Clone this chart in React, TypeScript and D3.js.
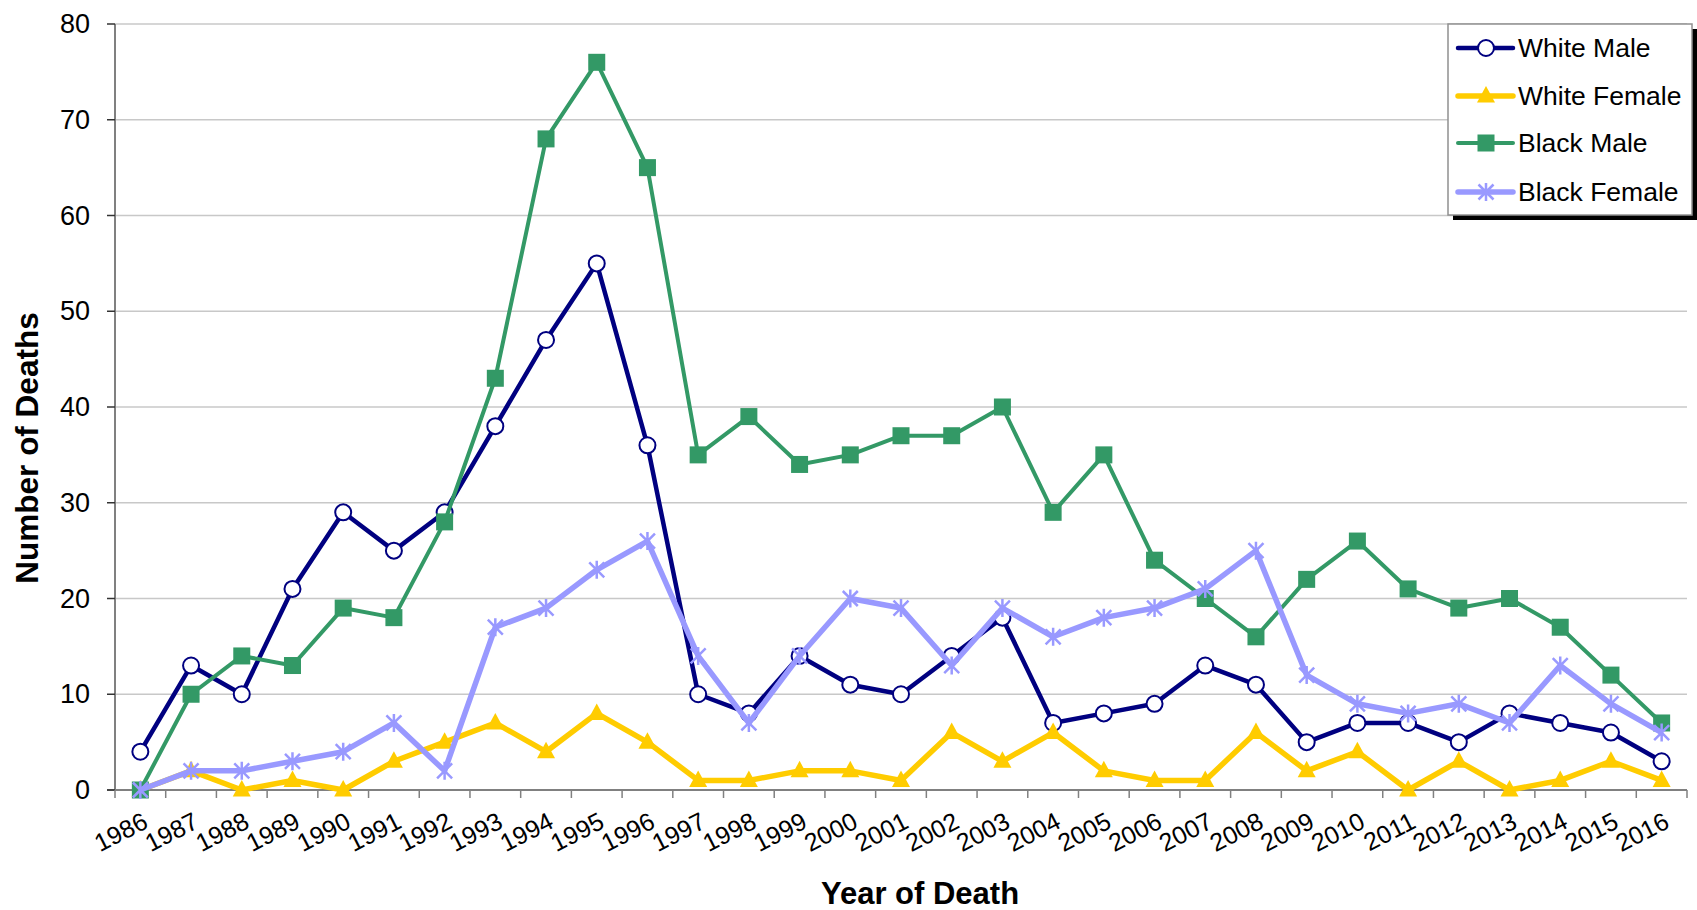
import React from "react";
import * as d3 from "d3";

const years = [1986,1987,1988,1989,1990,1991,1992,1993,1994,1995,1996,1997,1998,1999,2000,2001,2002,2003,2004,2005,2006,2007,2008,2009,2010,2011,2012,2013,2014,2015,2016];
const whiteMale = [4,13,10,21,29,25,29,38,47,55,36,10,8,14,11,10,14,18,7,8,9,13,11,5,7,7,5,8,7,6,3];
const whiteFemale = [0,2,0,1,0,3,5,7,4,8,5,1,1,2,2,1,6,3,6,2,1,1,6,2,4,0,3,0,1,3,1];
const blackMale = [0,10,14,13,19,18,28,43,68,76,65,35,39,34,35,37,37,40,29,35,24,20,16,22,26,21,19,20,17,12,7];
const blackFemale = [0,2,2,3,4,7,2,17,19,23,26,14,7,14,20,19,13,19,16,18,19,21,25,12,9,8,9,7,13,9,6];
const yTicks = [0,10,20,30,40,50,60,70,80];
const seriesNames = ["White Male","White Female","Black Male","Black Female"];

const W = 1697, H = 910;
const FONT = "Arial, 'Liberation Sans', Helvetica, sans-serif";

type Kind = "circle" | "triangle" | "square" | "star";
const seriesDefs: { name: string; values: number[]; color: string; width: number; kind: Kind }[] = [
  { name: seriesNames[0], values: whiteMale, color: "#000080", width: 4.5, kind: "circle" },
  { name: seriesNames[1], values: whiteFemale, color: "#FFCC00", width: 5.5, kind: "triangle" },
  { name: seriesNames[2], values: blackMale, color: "#339966", width: 4, kind: "square" },
  { name: seriesNames[3], values: blackFemale, color: "#9999FF", width: 5.5, kind: "star" },
];

function Marker({ kind, x, y, color }: { kind: Kind; x: number; y: number; color: string }) {
  if (kind === "circle") return <circle cx={x} cy={y} r={8} fill="#fff" stroke={color} strokeWidth={2} />;
  if (kind === "square") return <rect x={x - 8.5} y={y - 8.5} width={17} height={17} fill={color} />;
  if (kind === "triangle") return <path d={`M${x},${y - 10}L${x + 9},${y + 6.5}L${x - 9},${y + 6.5}Z`} fill={color} />;
  const s = 9, d = 7.5;
  return (
    <path
      d={`M${x},${y - s}L${x},${y + s}M${x - d},${y - d}L${x + d},${y + d}M${x - d},${y + d}L${x + d},${y - d}`}
      stroke={color}
      strokeWidth={2.5}
      fill="none"
    />
  );
}

export default function App() {
  const left = 115, right = 1687, top = 24, bottom = 790;
  const x = d3.scaleBand<number>().domain(years).range([left, right]).padding(0);
  const y = d3.scaleLinear().domain([0, 80]).range([bottom, top]);
  const cx = (yr: number) => (x(yr) as number) + x.bandwidth() / 2;
  const line = d3.line<number>().x((_, i) => cx(years[i])).y((v) => y(v));
  const tickXs = [...years.map((yr) => x(yr) as number), right];

  const legX = 1448, legY = 24, legW = 244, legH = 191;
  const legRows = [48, 96, 143, 192];

  return (
    <svg width={W} height={H} style={{ position: "absolute", left: 0, top: 0, background: "#fff" }} fontFamily={FONT}>
      <rect x={0} y={0} width={W} height={H} fill="#fff" />
      {yTicks.map((t) => (
        <line key={"g" + t} x1={left} x2={right} y1={y(t)} y2={y(t)} stroke="#c8c8c8" strokeWidth={1.5} />
      ))}
      {/* axes */}
      <line x1={left} x2={left} y1={top} y2={bottom} stroke="#808080" strokeWidth={2} />
      <line x1={left - 8} x2={right} y1={bottom} y2={bottom} stroke="#808080" strokeWidth={2} />
      {yTicks.map((t) => (
        <g key={"yt" + t}>
          <line x1={left - 8} x2={left} y1={y(t)} y2={y(t)} stroke="#333" strokeWidth={1.5} />
          <text x={90} y={y(t)} textAnchor="end" dominantBaseline="central" fontSize={27} fill="#000">{t}</text>
        </g>
      ))}
      {tickXs.map((tx, i) => (
        <line key={"xt" + i} x1={tx} x2={tx} y1={bottom} y2={bottom + 8} stroke="#808080" strokeWidth={1.5} />
      ))}
      {years.map((yr) => (
        <text
          key={"xl" + yr}
          transform={`translate(${cx(yr) + 1},${811}) rotate(-27)`}
          textAnchor="end"
          dy="0.72em"
          fontSize={25}
          fill="#000"
        >
          {yr}
        </text>
      ))}
      {/* titles */}
      <text x={920} y={893} textAnchor="middle" dominantBaseline="central" fontSize={31} fontWeight="bold" fill="#000">Year of Death</text>
      <text transform={`translate(27,448) rotate(-90)`} textAnchor="middle" dominantBaseline="central" fontSize={31.5} fontWeight="bold" fill="#000">Number of Deaths</text>
      {/* series */}
      {seriesDefs.map((s) => (
        <g key={s.name}>
          <path d={line(s.values) as string} fill="none" stroke={s.color} strokeWidth={s.width} strokeLinejoin="round" />
          {s.values.map((v, i) => (
            <Marker key={i} kind={s.kind} x={cx(years[i])} y={y(v)} color={s.color} />
          ))}
        </g>
      ))}
      {/* legend */}
      <rect x={legX + 5} y={legY + 5} width={legW} height={legH} fill="#000" />
      <rect x={legX} y={legY} width={legW} height={legH} fill="#fff" stroke="#909090" strokeWidth={1.5} />
      {seriesDefs.map((s, i) => (
        <g key={"leg" + s.name}>
          <line x1={1458} x2={1513} y1={legRows[i]} y2={legRows[i]} stroke={s.color} strokeWidth={s.width} strokeLinecap="round" />
          <Marker kind={s.kind} x={1486} y={legRows[i]} color={s.color} />
          <text x={1518} y={legRows[i]} dominantBaseline="central" fontSize={26.5} fill="#000">{s.name}</text>
        </g>
      ))}
    </svg>
  );
}
